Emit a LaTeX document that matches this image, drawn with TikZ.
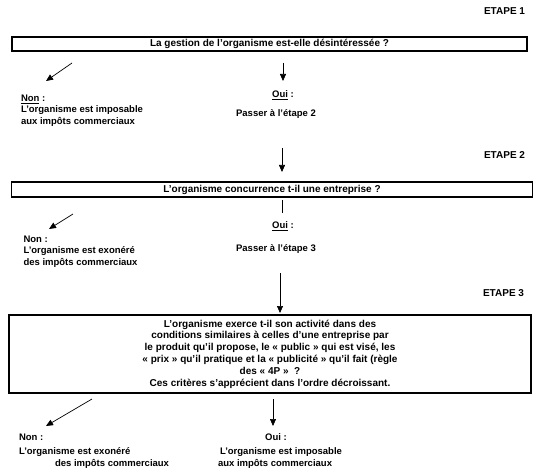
\documentclass[tikz,border=0pt]{standalone}
\usepackage{fontspec}
\setmainfont{Liberation Sans}
\usetikzlibrary{arrows.meta}
\tikzset{
  lbl/.style={font=\bfseries\fontsize{9.5}{11.6}\selectfont, inner sep=0pt, outer sep=0pt},
  etape/.style={font=\bfseries\fontsize{10}{12}\selectfont, inner sep=0pt, outer sep=0pt},
  qbox/.style={draw, line width=1.1pt, inner sep=0pt, font=\bfseries\fontsize{10}{11.8}\selectfont, align=center},
  arr/.style={-{Triangle[length=7pt,width=6pt]}, line width=0.7pt},
  seg/.style={line width=0.8pt}
}
\begin{document}
\begin{tikzpicture}[x=1pt,y=-1pt]
\useasboundingbox (0,0) rectangle (540,473);
% ETAPE 1
\node[etape, anchor=base east] (e1) at (525,15) {ETAPE 1};
\node[qbox, minimum width=515pt, minimum height=14pt] (b1) at (269.5,44) {La gestion de l’organisme est-elle désintéressée ?};
\coordinate (a1s) at (72,63); \coordinate (a1e) at (46,81);
\coordinate (d1s) at (283,63); \coordinate (d1e) at (283,81);
\draw[arr] (a1s) -- (a1e);
\draw[arr] (d1s) -- (d1e);
\node[lbl, anchor=base west, align=left] (n1) at (21,124.5) {\underline{Non} :\\L’organisme est imposable\\aux impôts commerciaux};
\node[lbl, anchor=base] (o1) at (283,98) {\underline{Oui} :};
\node[lbl, anchor=base] (p1) at (276,117) {Passer à l’étape 2};
% ETAPE 2
\coordinate (d2s) at (282,148); \coordinate (d2e) at (282,172);
\draw[arr] (d2s) -- (d2e);
\node[etape, anchor=base east] (e2) at (525,159) {ETAPE 2};
\node[qbox, minimum width=521pt, minimum height=15pt] (b2) at (272,189.5) {L’organisme concurrence t-il une entreprise ?};
\coordinate (l2s) at (282,200); \coordinate (l2e) at (282,213);
\draw[seg] (l2s) -- (l2e);
\coordinate (a2s) at (73,214); \coordinate (a2e) at (49,229);
\draw[arr] (a2s) -- (a2e);
\node[lbl, anchor=base] (o2) at (283,228.5) {\underline{Oui} :};
\node[lbl, anchor=base west, align=left] (n2) at (23.5,265.5) {Non :\\L’organisme est exonéré\\des impôts commerciaux};
\node[lbl, anchor=base] (p2) at (276,251.5) {Passer à l’étape 3};
% ETAPE 3
\coordinate (d3s) at (280,273); \coordinate (d3e) at (280,313);
\draw[arr] (d3s) -- (d3e);
\node[etape, anchor=base east] (e3) at (524,296) {ETAPE 3};
\node[qbox, minimum width=522pt, minimum height=78pt] (b3) at (270,354) {L’organisme exerce t-il son activité dans des\\conditions similaires à celles d’une entreprise par\\le produit qu’il propose, le « public » qui est visé, les\\« prix » qu’il pratique et la « publicité » qu’il fait (règle\\des « 4P »~ ?\\Ces critères s’apprécient dans l’ordre décroissant.};
\coordinate (a3s) at (92,399); \coordinate (a3e) at (46,426);
\coordinate (d3bs) at (273,399); \coordinate (d3be) at (273,426);
\draw[arr] (a3s) -- (a3e);
\draw[arr] (d3bs) -- (d3be);
\node[lbl, anchor=base west] (n3) at (19,440.5) {Non :};
\node[lbl, anchor=base west] (n3a) at (19,454.5) {L’organisme est exonéré};
\node[lbl, anchor=base west] (n3b) at (55,466.5) {des impôts commerciaux};
\node[lbl, anchor=base] (o3) at (276,440.5) {Oui :};
\node[lbl, anchor=base west] (o3a) at (220,454.5) {L’organisme est imposable};
\node[lbl, anchor=base west] (o3b) at (218,466.5) {aux impôts commerciaux};
\end{tikzpicture}
\end{document}
